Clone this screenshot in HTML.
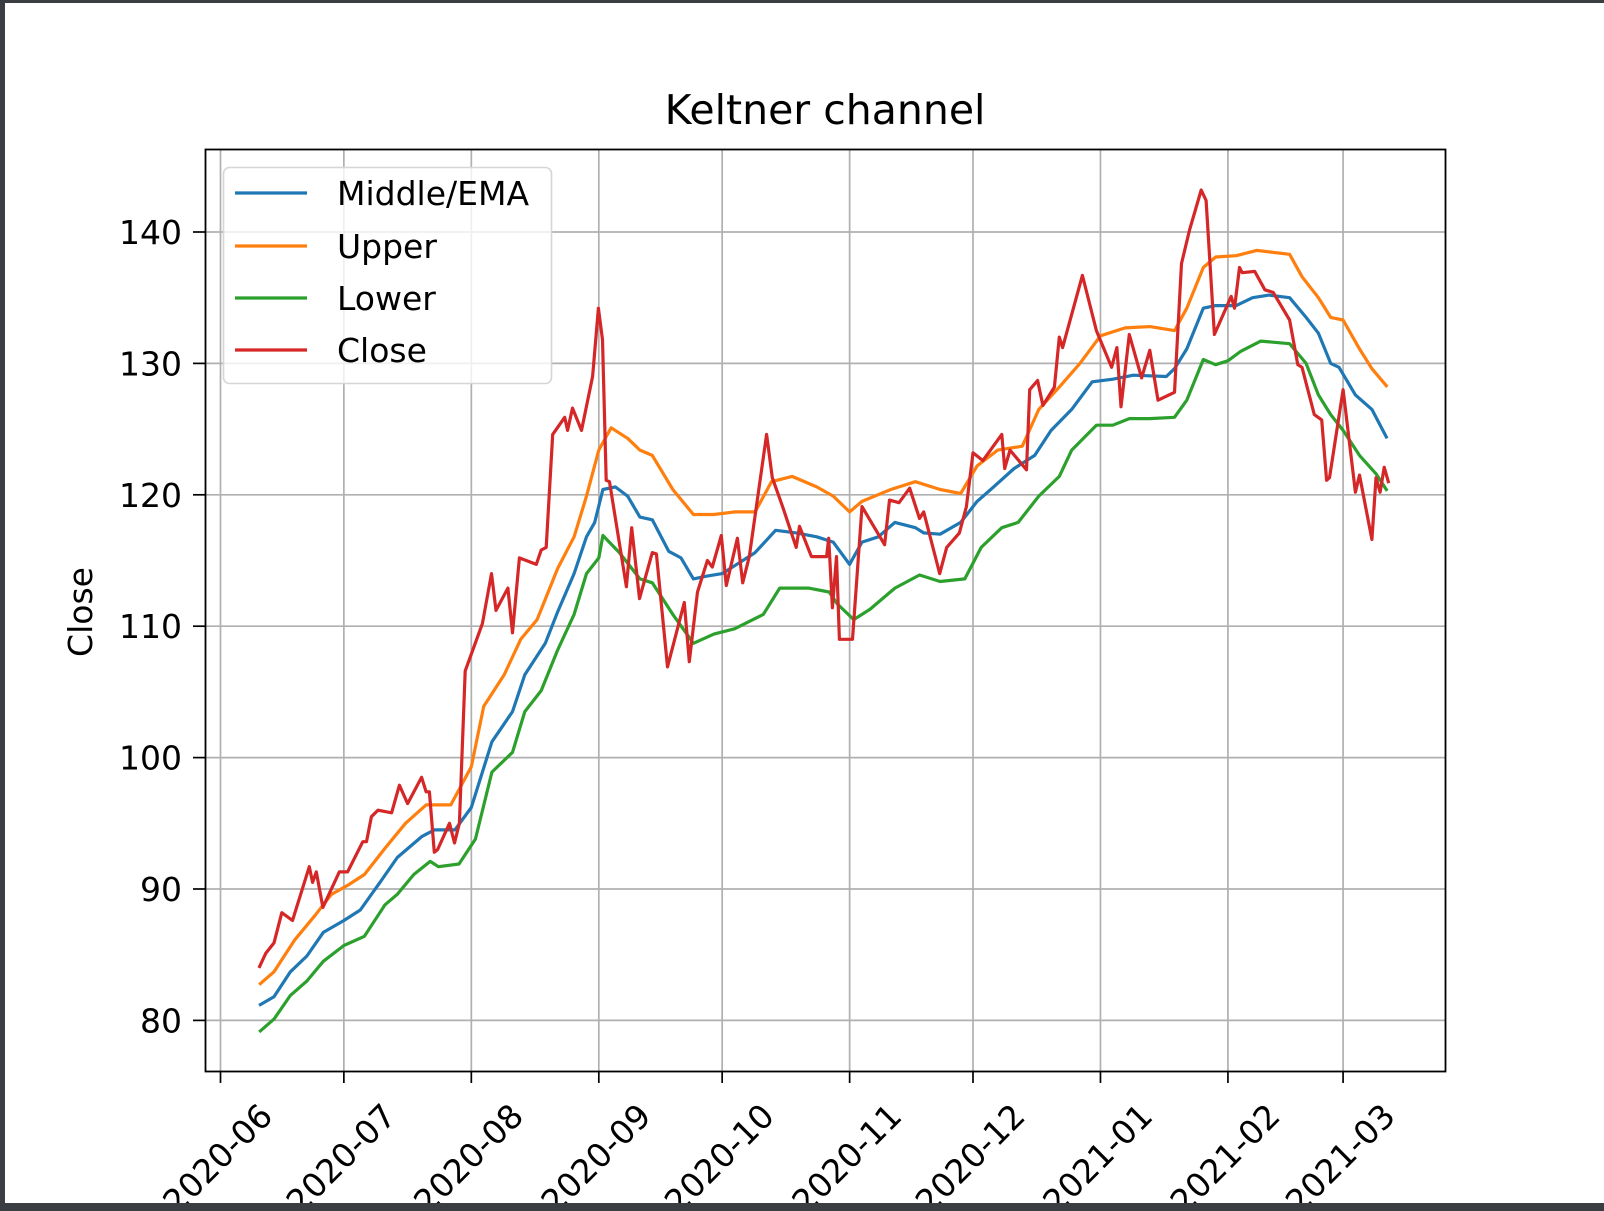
<!DOCTYPE html>
<html><head><meta charset="utf-8"><style>
html,body{margin:0;padding:0;background:#fff;}
svg{display:block;font-family:"DejaVu Sans","Liberation Sans",sans-serif;}
</style></head><body>
<svg id="chart" width="1604" height="1211" viewBox="0 0 1604 1211" xmlns="http://www.w3.org/2000/svg">
<rect x="0" y="0" width="1604" height="1211" fill="#ffffff"/>
<g id="grid"></g>
<g id="series"></g>
<rect x="205.5" y="149.5" width="1240" height="922" fill="none" stroke="#000" stroke-width="1.8"/>
<g id="ticks"></g>
<text x="825" y="124" font-size="41" text-anchor="middle" fill="#000">Keltner channel</text>
<text x="0" y="0" font-size="33" text-anchor="middle" fill="#000" transform="translate(92,612) rotate(-90)">Close</text>
<g>
<rect x="223.5" y="167.5" width="328" height="216" rx="6" fill="#fff" fill-opacity="0.8" stroke="#d6d6d6" stroke-width="1.6"/>
<g><line x1="235" y1="193" x2="307" y2="193" stroke="#1f77b4" stroke-width="3.2"/><text x="337" y="205" font-size="33" fill="#000">Middle/EMA</text></g>
<g><line x1="235" y1="246" x2="307" y2="246" stroke="#ff7f0e" stroke-width="3.2"/><text x="337" y="258" font-size="33" fill="#000">Upper</text></g>
<g><line x1="235" y1="298" x2="307" y2="298" stroke="#2ca02c" stroke-width="3.2"/><text x="337" y="310" font-size="33" fill="#000">Lower</text></g>
<g><line x1="235" y1="350" x2="307" y2="350" stroke="#d62728" stroke-width="3.2"/><text x="337" y="362" font-size="33" fill="#000">Close</text></g>
</g>
<rect x="0" y="0" width="1604" height="3" fill="#3a3d41"/>
<rect x="0" y="0" width="5" height="1211" fill="#3a3d41"/>
<rect x="0" y="1203" width="1604" height="8" fill="#3a3d41"/>
</svg>
<script>
// days since 2020-06-01
const xTickDays = [0, 30, 61, 92, 122, 153, 183, 214, 245, 273];
const xTickLabels = ["2020-06","2020-07","2020-08","2020-09","2020-10","2020-11","2020-12","2021-01","2021-02","2021-03"];
const yTickValues = [80, 90, 100, 110, 120, 130, 140];

const closeDays = [9.5,11,13,14.9,17.5,21.6,22.4,23.3,24.9,28.9,30.9,34.6,35.5,36.7,38.3,41.6,43.5,45.5,48.9,50,50.8,52,52.8,55.7,56.9,58.1,59.5,63.7,65.9,67,69.9,71,72.7,76.8,78,79.2,80.8,83.7,84.4,85.6,87.8,90.5,91.9,92.9,93.8,94.6,98.7,100,101.9,105,106,108.7,112.8,114,116,118.4,119.6,121.8,123,125.7,127,128.6,132.8,134.2,136.7,140,140.8,143.7,147.4,147.9,148.8,149.8,150.5,153.7,156,161.5,162.7,165,167.6,170,171,174.9,176.6,179.7,181.4,183,185.4,190,190.7,192,196,196.8,198.7,200,202.8,204,204.8,209.6,213,216.7,218,219,221,224,226,228,232,233.7,235.7,238.5,239.7,241.7,245.8,246.6,247.8,248.5,251.5,254,256,260,262,263,266,267.8,269,269.7,273,276,277,280,281,282,283,284];
const closeValues = [84.1,85.1,85.9,88.2,87.6,91.7,90.5,91.3,88.6,91.3,91.3,93.6,93.6,95.5,96.0,95.8,97.9,96.5,98.5,97.4,97.4,92.8,93.0,95.0,93.5,95.0,106.6,110.2,114.0,111.2,112.9,109.5,115.2,114.7,115.8,116.0,124.6,125.9,124.9,126.6,124.9,129.0,134.2,131.8,121.1,121.0,113.0,117.5,112.1,115.6,115.5,106.9,111.8,107.3,112.6,115.0,114.5,116.9,113.1,116.7,113.3,115.3,124.6,121.3,119.1,116.0,117.6,115.3,115.3,116.7,111.4,115.3,109.0,109.0,119.1,116.2,119.6,119.4,120.5,118.2,118.7,114.0,116.0,117.1,119.1,123.2,122.6,124.6,122.0,123.4,121.9,128.0,128.7,126.8,128.2,132.0,131.2,136.7,132.5,129.7,131.2,126.7,132.2,128.9,131.0,127.2,127.8,137.6,140.2,143.2,142.4,132.2,135.1,134.2,137.3,136.9,137.0,135.6,135.4,133.3,129.9,129.7,126.1,125.7,121.1,121.3,128.0,120.2,121.5,116.6,121.3,120.2,122.1,121.0];

const middleDays = [9.7,13,17,21,25,30,34,39,43,49,52,57,61,66,71,74,79,82,86,89,91,93,96,99,102,105,109,112,115,118,122,125,130,135,140,145,149,153,156,160,164,169,171,175,180,184,188,193,198,202,207,212,217,222,230,232,235,239,242,247,251,255,260,264,267,270,272,276,280,283.5];
const middleValues = [81.2,81.8,83.7,84.9,86.7,87.6,88.4,90.6,92.4,94.0,94.5,94.5,96.2,101.2,103.5,106.3,108.7,111.1,114.0,116.8,117.9,120.4,120.6,119.9,118.3,118.1,115.7,115.2,113.6,113.8,114.0,114.6,115.6,117.3,117.1,116.8,116.4,114.7,116.4,116.8,117.9,117.5,117.1,117.0,117.9,119.5,120.6,122.0,123.0,124.9,126.5,128.6,128.8,129.1,129.0,129.6,131.1,134.2,134.4,134.4,135.0,135.2,135.0,133.5,132.3,130.0,129.7,127.6,126.5,124.4];

const upperDays = [9.7,13,18,23,27,31,35,40,45,50,56,61,64,69,73,77,82,86,89,92,95,99,102,105,110,115,120,125,130,134,139,145,149,153,156,163,169,175,180,184,189,195,199,204,209,214,220,226,232,235,239,242,247,252,260,263,267,270,273,277,280,283.5];
const upperValues = [82.8,83.7,86.1,88.0,89.6,90.3,91.1,93.1,95.0,96.4,96.4,99.3,103.9,106.3,109.0,110.5,114.4,116.8,119.9,123.4,125.1,124.3,123.4,123.0,120.4,118.5,118.5,118.7,118.7,121.0,121.4,120.6,119.9,118.7,119.5,120.4,121.0,120.4,120.1,122.2,123.4,123.7,126.5,128.2,130.0,132.1,132.7,132.8,132.5,134.2,137.3,138.1,138.2,138.6,138.3,136.6,135.0,133.5,133.3,131.1,129.6,128.3];

const lowerDays = [9.7,13,17,21,25,30,35,40,43,47,51,53,58,62,66,71,74,78,82,86,89,92,93,97,102,105,110,115,120,125,132,136,143,148,150,154,158,164,170,175,181,185,190,194,199,204,207,213,217,221,226,232,235,239,242,245,248,253,260,264,267,270,273,277,281,283.5];
const lowerValues = [79.2,80.1,81.9,83.0,84.5,85.7,86.4,88.8,89.6,91.1,92.1,91.7,91.9,93.8,98.9,100.4,103.5,105.1,108.2,110.9,114.0,115.2,116.9,115.6,113.6,113.3,110.9,108.7,109.4,109.8,110.9,112.9,112.9,112.6,111.7,110.5,111.3,112.9,113.9,113.4,113.6,116.0,117.5,117.9,119.9,121.4,123.4,125.3,125.3,125.8,125.8,125.9,127.2,130.3,129.9,130.2,130.9,131.7,131.5,130.0,127.6,126.1,124.9,123.0,121.6,120.4];

const NS = "http://www.w3.org/2000/svg";
function xScale(d){ return 220.5 + d*4.112; }
function yScale(v){ return 232 + (140 - v)*13.14; }

const grid = document.getElementById('grid');
const ticks = document.getElementById('ticks');
xTickDays.forEach((d,i)=>{
  const x = xScale(d);
  const gl = document.createElementNS(NS,'line');
  
  
  gl.setAttribute('x1',x); gl.setAttribute('x2',x); gl.setAttribute('y1',150); gl.setAttribute('y2',1071);
  gl.setAttribute('stroke','#b0b0b0'); gl.setAttribute('stroke-width','1.7');
  grid.appendChild(gl);
  const tk = document.createElementNS(NS,'line');
  
  
  tk.setAttribute('x1',x); tk.setAttribute('x2',x); tk.setAttribute('y1',1071); tk.setAttribute('y2',1083);
  tk.setAttribute('stroke','#000'); tk.setAttribute('stroke-width','1.7');
  ticks.appendChild(tk);
  const t = document.createElementNS(NS,'text');
  
  
  const tx = x + 54, ty = 1118;
  t.setAttribute('x',tx); t.setAttribute('y',ty);
  t.setAttribute('text-anchor','end'); t.setAttribute('font-size','33'); t.setAttribute('fill','#000');
  t.setAttribute('transform','rotate(-45 '+tx+' '+ty+')');
  t.textContent = xTickLabels[i];
  ticks.appendChild(t);
});
yTickValues.forEach(v=>{
  const y = yScale(v);
  const gl = document.createElementNS(NS,'line');
  
  
  gl.setAttribute('x1',206); gl.setAttribute('x2',1445); gl.setAttribute('y1',y); gl.setAttribute('y2',y);
  gl.setAttribute('stroke','#b0b0b0'); gl.setAttribute('stroke-width','1.7');
  grid.appendChild(gl);
  const tk = document.createElementNS(NS,'line');
  
  
  tk.setAttribute('x1',193); tk.setAttribute('x2',205); tk.setAttribute('y1',y); tk.setAttribute('y2',y);
  tk.setAttribute('stroke','#000'); tk.setAttribute('stroke-width','1.7');
  ticks.appendChild(tk);
  const t = document.createElementNS(NS,'text');
  
  
  t.setAttribute('x',182); t.setAttribute('y',y+12);
  t.setAttribute('text-anchor','end'); t.setAttribute('font-size','33'); t.setAttribute('fill','#000');
  t.textContent = String(v);
  ticks.appendChild(t);
});

const seriesG = document.getElementById('series');
function drawLine(days, vals, color, name){
  const pts = days.map((d,i)=> xScale(d).toFixed(1)+','+yScale(vals[i]).toFixed(1)).join(' ');
  const pl = document.createElementNS(NS,'polyline');
  
  
  pl.setAttribute('points', pts);
  pl.setAttribute('fill','none'); pl.setAttribute('stroke',color);
  pl.setAttribute('stroke-width','3.2'); pl.setAttribute('stroke-linejoin','round'); pl.setAttribute('stroke-linecap','square');
  seriesG.appendChild(pl);
}
drawLine(middleDays, middleValues, '#1f77b4', 'middle-ema-line');
drawLine(upperDays, upperValues, '#ff7f0e', 'upper-band-line');
drawLine(lowerDays, lowerValues, '#2ca02c', 'lower-band-line');
drawLine(closeDays, closeValues, '#d62728', 'close-line');
</script>
</body></html>
